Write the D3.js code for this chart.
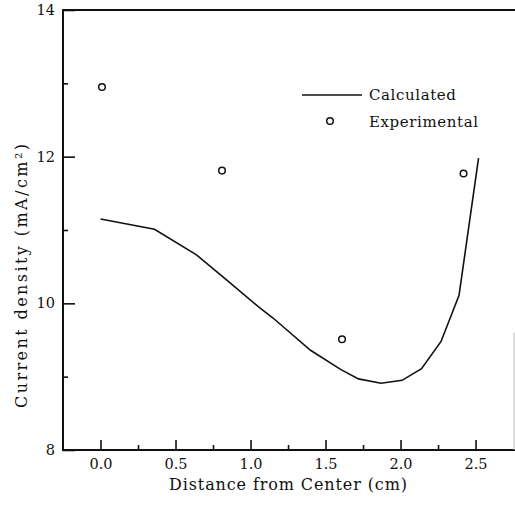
<!DOCTYPE html>
<html lang="en">
<head>
    <meta charset="UTF-8">
    <title>Current density vs distance</title>
    <script src="https://d3js.org/d3.v7.min.js"></script>
    <style>
        html, body {
            margin: 0;
            padding: 0;
            background: white;
        }

        text {
            font-family: 'DejaVu Serif', 'Liberation Serif', serif;
            fill: #111;
        }
    </style>
</head>
<body>
    <div class="content"></div>
    <script>
        // calculated curve (distance cm, current density mA/cm2)
        const calcX = [0.0, 0.36, 0.64, 0.84, 1.06, 1.15, 1.40, 1.60, 1.72, 1.87, 2.01, 2.14, 2.27, 2.39, 2.52];
        const calcY = [11.15, 11.01, 10.66, 10.32, 9.94, 9.80, 9.36, 9.10, 8.97, 8.91, 8.95, 9.11, 9.48, 10.11, 11.98];

        // experimental points
        const expX = [0.01, 0.81, 1.61, 2.42];
        const expY = [12.95, 11.81, 9.51, 11.77];

        const xTicks = [0.0, 0.5, 1.0, 1.5, 2.0, 2.5];
        const xMinor = [0.25, 0.75, 1.25, 1.75, 2.25];
        const yTicks = [8, 10, 12, 14];
        const yMinor = [9, 11, 13];

        const legendNames = ["Calculated", "Experimental"];

        const w = 515;
        const h = 518;
        const mLeft = 63, mRight = 515, mTop = 10, mBottom = 450;

        const x = d3.scaleLinear().domain([-0.25, 2.763]).range([mLeft, mRight]);
        const y = d3.scaleLinear().domain([8, 14]).range([mBottom, mTop]);

        const svg = d3.select(".content")
            .append("svg")
            .attr("width", w)
            .attr("height", h);

        // frame: left, bottom, top solid; right side only faint at the bottom
        svg.append("path")
            .attr("d", `M${mRight},${mTop}H${mLeft}V${mBottom}H${mRight}`)
            .attr("fill", "none")
            .attr("stroke", "#111")
            .attr("stroke-width", 2);

        svg.append("line")
            .attr("x1", mRight - 1).attr("x2", mRight - 1)
            .attr("y1", y(9.6)).attr("y2", mBottom)
            .attr("stroke", "#bbb")
            .attr("stroke-width", 1);

        // x axis (ticks point inward)
        svg.append("g")
            .attr("transform", `translate(0,${mBottom})`)
            .call(d3.axisBottom(x).tickValues(xTicks).tickSize(-10).tickPadding(9)
                .tickFormat(d3.format(".1f")));
        svg.append("g")
            .attr("transform", `translate(0,${mBottom})`)
            .call(d3.axisBottom(x).tickValues(xMinor).tickSize(-5).tickFormat(""));

        // y axis
        svg.append("g")
            .attr("transform", `translate(${mLeft},0)`)
            .call(d3.axisLeft(y).tickValues(yTicks).tickSize(-12).tickPadding(8)
                .tickFormat(d3.format("d")));
        svg.append("g")
            .attr("transform", `translate(${mLeft},0)`)
            .call(d3.axisLeft(y).tickValues(yMinor).tickSize(-5).tickFormat(""));

        svg.selectAll(".domain").remove();
        svg.selectAll(".tick line")
            .attr("stroke", "#111")
            .attr("stroke-width", 1.6);
        svg.selectAll(".tick text")
            .attr("font-size", "14.5px")
            .attr("fill", "#111");

        // axis titles
        svg.append("text")
            .attr("x", 288)
            .attr("y", 490)
            .attr("text-anchor", "middle")
            .attr("font-size", "16px")
            .attr("textLength", 238)
            .attr("lengthAdjust", "spacing")
            .text("Distance from Center (cm)");

        svg.append("text")
            .attr("transform", `translate(27,276) rotate(-90)`)
            .attr("text-anchor", "middle")
            .attr("font-size", "16px")
            .attr("textLength", 264)
            .attr("lengthAdjust", "spacing")
            .text("Current density (mA/cm²)");

        // calculated line
        const calc = calcX.map((d, i) => ({ x: d, y: calcY[i] }));
        const line = d3.line().x(d => x(d.x)).y(d => y(d.y));

        svg.append("path")
            .datum(calc)
            .attr("d", line)
            .attr("fill", "none")
            .attr("stroke", "#111")
            .attr("stroke-width", 1.6);

        // experimental circles
        const exp = expX.map((d, i) => ({ x: d, y: expY[i] }));
        svg.selectAll("circle.exp")
            .data(exp)
            .enter()
            .append("circle")
            .attr("class", "exp")
            .attr("cx", d => x(d.x))
            .attr("cy", d => y(d.y))
            .attr("r", 3.3)
            .attr("fill", "white")
            .attr("stroke", "#111")
            .attr("stroke-width", 1.5);

        // legend
        const legend = svg.append("g").attr("transform", "translate(302,95)");
        legend.append("line")
            .attr("x1", 0).attr("x2", 60)
            .attr("y1", 0).attr("y2", 0)
            .attr("stroke", "#111")
            .attr("stroke-width", 1.6);
        legend.append("circle")
            .attr("cx", 28).attr("cy", 26)
            .attr("r", 3.3)
            .attr("fill", "white")
            .attr("stroke", "#111")
            .attr("stroke-width", 1.5);
        legend.selectAll("text")
            .data(legendNames)
            .enter()
            .append("text")
            .attr("x", 67)
            .attr("y", (d, i) => 5 + i * 27)
            .attr("font-size", "15px")
            .attr("letter-spacing", "0.6px")
            .text(d => d);
    </script>
</body>
</html>
